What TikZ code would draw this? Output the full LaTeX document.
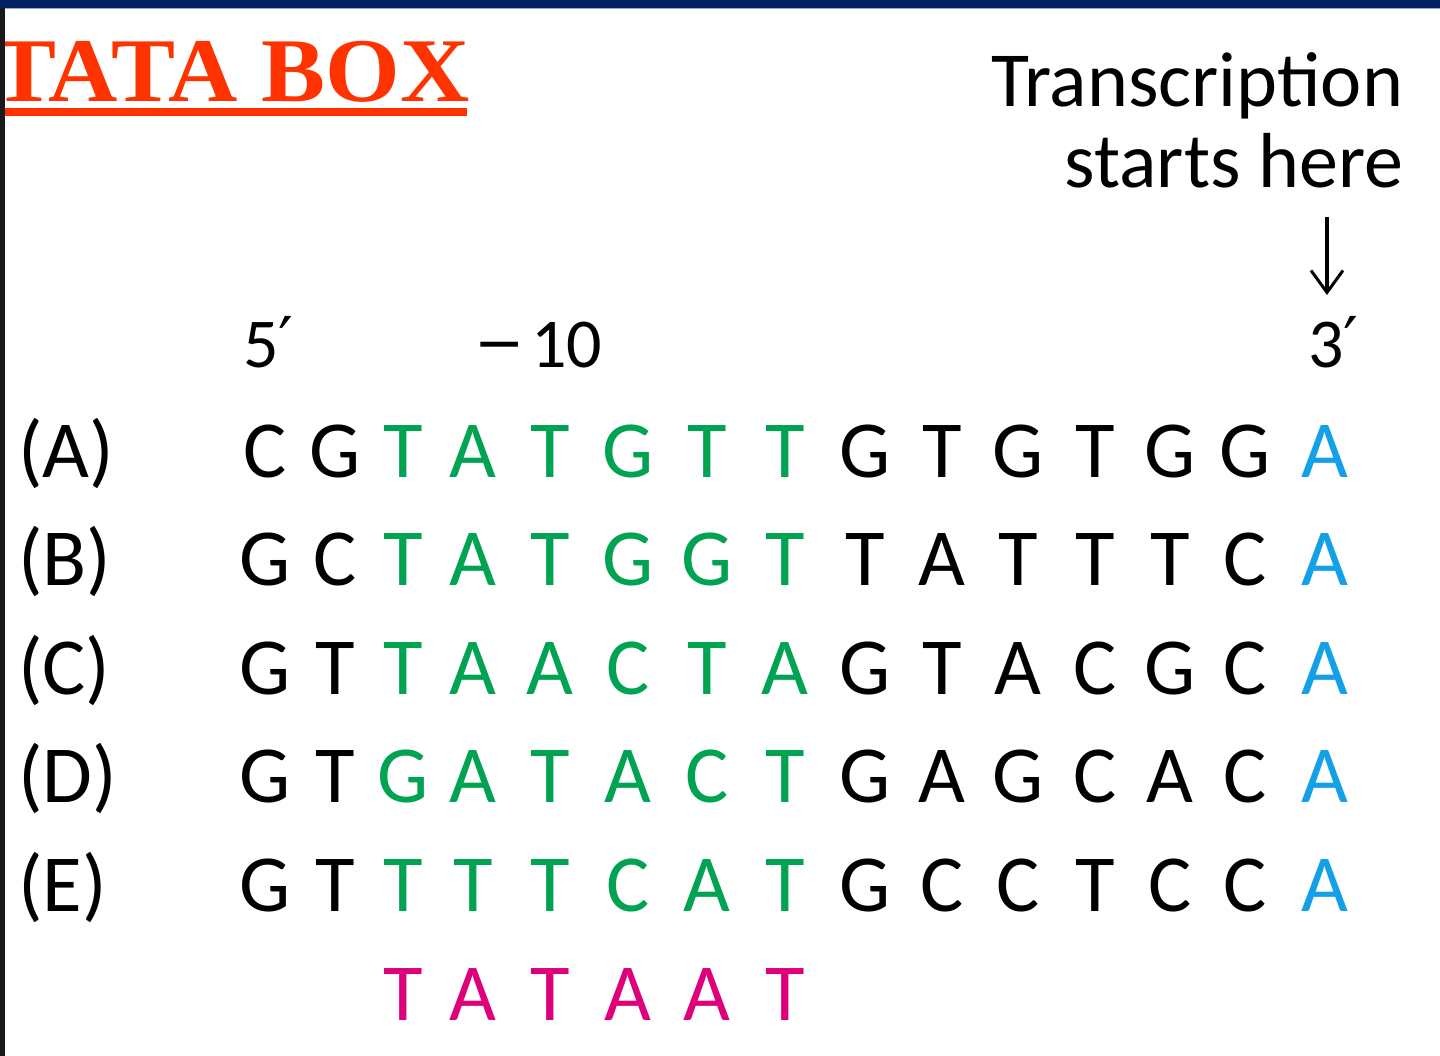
\documentclass[tikz,border=0pt]{standalone}
\usepackage{fontspec}
\setmainfont{Carlito}
\newfontfamily\titlefont{Liberation Serif}
\newfontfamily\symfont{DejaVu Sans}
\usetikzlibrary{arrows.meta}
\definecolor{tgreen}{RGB}{0,163,82}
\definecolor{tblue}{RGB}{20,160,230}
\definecolor{tmag}{RGB}{222,0,122}
\definecolor{tred}{RGB}{255,51,0}
\definecolor{tnavy}{RGB}{0,32,96}
\definecolor{tedge}{RGB}{150,170,210}
\definecolor{tbar}{RGB}{25,25,25}
\newcommand{\prm}{{\symfont\fontsize{66}{66}\selectfont\raisebox{2pt}{′}}}
\begin{document}
\begin{tikzpicture}[x=1pt,y=-1pt,
  base/.style={inner sep=0,outer sep=0,anchor=base,font=\fontsize{81}{97}\selectfont},
  lbl/.style={inner sep=0,outer sep=0,anchor=base west,font=\fontsize{81}{97}\selectfont},
  num/.style={inner sep=0,outer sep=0,anchor=base west,font=\fontsize{70}{80}\selectfont},
  note/.style={inner sep=0,outer sep=0,anchor=base east,font=\fontsize{78}{80}\selectfont},
  arr/.style={line width=3.5pt,-{Straight Barb[length=22pt,width=32pt,line width=3pt]}}]
\useasboundingbox (0,0) rectangle (1440,1056);
\fill[white] (0,0) rectangle (1440,1056);
% title
\node[inner sep=0,outer sep=0,anchor=base west,text=tred,
      font=\titlefont\bfseries\fontsize{91}{100}\selectfont] (title) at (-8,102) {\scalebox{1.055}[1]{TATA BOX}};
\fill[tred] (5,108) rectangle (467,116);
% frame bars
\fill[tnavy] (0,0) rectangle (1440,8);
\fill[tedge] (0,8) rectangle (1440,9.5);
\fill[tbar] (0,8) rectangle (5,1056);
% transcription note
\node[note] (tr1) at (1403,107) {Transcription};
\node[note] (tr2) at (1403,188) {starts here};
\coordinate (arrtop) at (1327,217);
\coordinate (arrtip) at (1327,295);
\draw[arr] (arrtop) -- (arrtip);
% position labels
\node[num] (five) at (243,367) {5\prm};
\node[inner sep=0,outer sep=0,anchor=base west,font=\symfont\fontsize{60}{60}\selectfont] (minus) at (474,364) {−};
\node[num] (ten) at (531,367) {10};
\node[num] (three) at (1308,367) {3\prm};
% sequences
\def\colx{{265,335,403,473,550,628,707,785,865,942,1018,1095,1170,1245,1325}}
\foreach \lab/\seq [count=\ri] in {
  A/{C,G,T,A,T,G,T,T,G,T,G,T,G,G,A},
  B/{G,C,T,A,T,G,G,T,T,A,T,T,T,C,A},
  C/{G,T,T,A,A,C,T,A,G,T,A,C,G,C,A},
  D/{G,T,G,A,T,A,C,T,G,A,G,C,A,C,A},
  E/{G,T,T,T,T,C,A,T,G,C,C,T,C,C,A}}{
  \pgfmathsetmacro\yy{477+108.6*(\ri-1)}
  \node[lbl] (lab\lab) at (18,\yy) {(\lab)};
  \foreach \ch [count=\ci] in \seq {
    \pgfmathsetmacro\xx{\colx[\ci-1]}
    \ifnum\ci<3 \def\cc{black}\else\ifnum\ci<9 \def\cc{tgreen}\else\ifnum\ci=15 \def\cc{tblue}\else\def\cc{black}\fi\fi\fi
    \node[base,text=\cc] (\lab\ci) at (\xx,\yy) {\ch};
  }
}
\foreach \ch [count=\ci from 3] in {T,A,T,A,A,T}{
  \pgfmathsetmacro\xx{\colx[\ci-1]}
  \node[base,text=tmag] (F\ci) at (\xx,1020) {\ch};
}
\end{tikzpicture}
\end{document}
